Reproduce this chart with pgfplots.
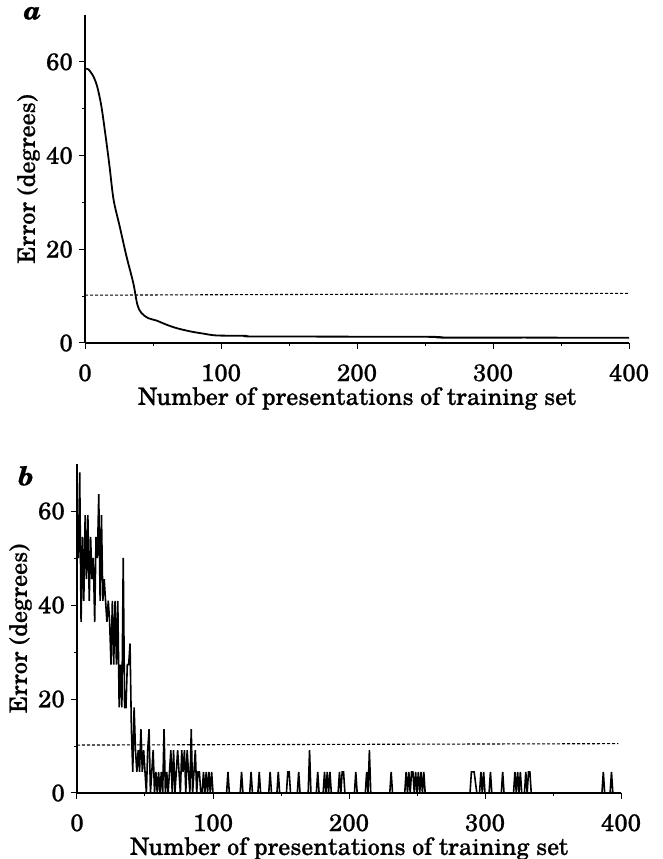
\documentclass[border=0pt]{standalone}
\usepackage{pgfplots}
\pgfplotsset{compat=1.18}
\usepackage{fontspec}
\setmainfont{TeX Gyre Schola}[FakeBold=0.7]

% panel b: error per presentation (quantised in steps of ~4.55 deg)
\pgfplotstableread{
x y
1 50.0
2 68.2
3 36.4
4 54.5
5 40.9
6 59.1
7 45.5
8 59.1
9 40.9
10 54.5
11 45.5
12 50.0
13 36.4
14 54.5
15 50.0
16 63.6
17 40.9
18 59.1
19 40.9
20 45.5
21 40.9
22 36.4
23 40.9
24 36.4
25 27.3
26 40.9
27 27.3
28 40.9
29 27.3
30 40.9
31 18.2
32 27.3
33 18.2
34 50.0
35 18.2
36 18.2
37 27.3
38 27.3
39 31.8
40 13.6
41 4.5
42 18.2
43 9.1
44 4.5
45 9.1
46 4.5
47 13.6
48 4.5
49 9.1
50 4.5
51 0
52 9.1
53 13.6
54 0
55 4.5
56 9.1
57 0
58 4.5
59 0
60 4.5
61 0
62 4.5
63 0
64 13.6
65 0
66 4.5
67 0
68 4.5
69 9.1
70 0
71 9.1
72 0
73 4.5
74 9.1
75 4.5
76 0
77 9.1
78 4.5
79 9.1
80 0
81 9.1
82 4.5
83 0
84 13.6
85 0
86 4.5
87 9.1
88 0
89 4.5
90 4.5
91 0
92 0
93 4.5
94 0
95 4.5
96 0
97 4.5
98 0
99 4.5
100 0
110 0
111 4.5
112 0
120 0
121 4.5
122 0
127 0
128 4.5
129 0
133 0
134 4.5
135 0
141 0
142 4.5
143 0
147 0
148 4.5
149 0
154 0
155 4.5
156 4.5
157 0
162 0
163 4.5
164 0
170 0
171 9.1
172 0
176 0
177 4.5
178 0
181 0
182 4.5
183 0
184 4.5
185 0
186 4.5
187 0
192 0
193 4.5
194 0
195 4.5
196 4.5
197 0
204 0
205 4.5
206 0
212 0
213 4.5
214 0
215 9.1
216 0
230 0
231 4.5
232 0
241 0
242 4.5
243 0
244 4.5
245 0
246 4.5
247 4.5
248 0
249 4.5
250 0
251 4.5
252 0
253 4.5
254 0
255 4.5
256 0
289 0
290 4.5
292 4.5
294 0
296 0
297 4.5
298 0
299 4.5
300 0
303 0
304 4.5
305 0
312 0
313 4.5
314 0
321 0
322 4.5
323 0
324 4.5
325 0
326 4.5
327 0
329 0
330 4.5
331 0
332 4.5
333 4.5
334 0
386 0
387 4.5
388 0
392 0
393 4.5
394 0
400 0
}\trainb

\begin{document}
\begin{tikzpicture}[font=\fontsize{24}{28}\selectfont]
\useasboundingbox (0,0) rectangle (662pt,859pt);
\pgfplotsset{
  errstyle/.style={
    scale only axis,
    width=544pt,
    xmin=0, xmax=400, ymin=0, ymax=70,
    axis lines*=left,
    axis line style={line width=1.5pt},
    xtick={0,100,...,400},
    minor xtick={50,150,250,350},
    ytick={0,20,40,60},
    minor ytick={10,30,50},
    tick align=outside,
    major tick length=6pt,
    minor tick length=3pt,
    tick style={black, line width=1pt},
    /pgf/number format/assume math mode=true,
    ticklabel style={font=\fontsize{24}{28}\selectfont, inner sep=0pt},
    xticklabel style={yshift=-15pt},
    yticklabel style={xshift=-6pt},
    label style={font=\fontsize{24}{28}\selectfont, inner sep=0pt},
    xlabel={Number of presentations of training set},
    ylabel={Error (degrees)},
    xlabel style={at={(axis description cs:0.5,0)}, anchor=north, yshift=-44pt},
    ylabel style={at={(axis description cs:-0.104,0.5)}, anchor=center},
    clip=false,
  },
}
% panel a
\begin{axis}[errstyle, height=328pt, at={(85pt,516pt)}, anchor=south west]
\addplot[black, line width=1.8pt, smooth] coordinates {
(0.5,58.5)(2.5,58.4)(6,57.0)(9,54.7)(12,50.6)(15,44.5)(18,37.8)(21,30.6)
(25.5,24.9)(30.5,18.5)(35.5,12.8)(38.5,8.2)(41.5,6.4)(46.5,5.3)(52.5,4.8)
(60,3.9)(67,3.2)(77,2.5)(87,2.0)(97,1.6)(118,1.55)(122,1.4)(200,1.35)
(258,1.3)(262,1.15)(330,1.15)(400,1.1)};
\addplot[black, line width=1.1pt, dash pattern=on 3pt off 2pt] coordinates {(0,10.2)(400,10.6)};
\node[font=\fontsize{26}{28}\selectfont\bfseries\itshape] at (rel axis cs:-0.097,1.005) {a};
\end{axis}
% panel b
\begin{axis}[errstyle, height=329pt, at={(77pt,66pt)}, anchor=south west]
\addplot[black, line width=1.6pt] table[x=x, y=y] {\trainb};
\addplot[black, line width=1.1pt, dash pattern=on 3pt off 2pt] coordinates {(0,10.2)(398,10.5)};
\node[font=\fontsize{26}{28}\selectfont\bfseries\itshape] at (rel axis cs:-0.094,0.964) {b};
\end{axis}
\end{tikzpicture}
\end{document}
